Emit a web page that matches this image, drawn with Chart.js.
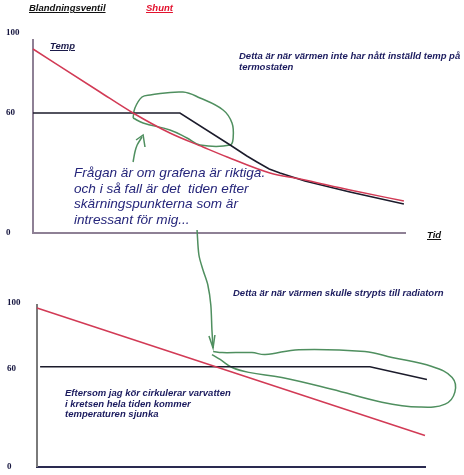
<!DOCTYPE html>
<html>
<head>
<meta charset="utf-8">
<script src="https://cdn.jsdelivr.net/npm/chart.js@4.4.1/dist/chart.umd.min.js"></script>
<style>
  body { margin: 0; background: #fff; }
  #wrap { position: relative; width: 464px; height: 475px; overflow: hidden; }
  canvas { position: absolute; left: 0; top: 0; }
  .t { position: absolute; white-space: pre; font-family: "Liberation Sans", Arial, sans-serif; }
  .small { font-size: 9.5px; font-weight: bold; font-style: italic; line-height: 10.5px; color: #1b1b5e; }
  .head { font-size: 9.5px; font-weight: bold; font-style: italic; line-height: 10px; text-decoration: underline; }
  .big { font-size: 13.6px; font-style: italic; line-height: 15.5px; color: #25257a; }
</style>
</head>
<body>
<div id="wrap">
  <canvas id="ovreGraf" width="464" height="475"></canvas>
  <canvas id="undreGraf" width="464" height="475"></canvas>

  <div class="t head" style="left:29px;top:3px;color:#111">Blandningsventil</div>
  <div class="t head" style="left:146px;top:3px;color:#e3122e">Shunt</div>
  <div class="t head" style="left:50px;top:41px;color:#1b1b4b">Temp</div>
  <div class="t head" style="left:427px;top:230px;color:#111">Tid</div>
  <div class="t small" style="left:239px;top:51px;line-height:10.5px">Detta är när värmen inte har nått inställd temp på
termostaten</div>
  <div class="t big" style="left:74px;top:165px">Frågan är om grafena är riktiga.
och i så fall är det  tiden efter
skärningspunkterna som är
intressant för mig...</div>
  <div class="t small" style="left:233px;top:288px">Detta är när värmen skulle strypts till radiatorn</div>
  <div class="t small" style="left:65px;top:388px">Eftersom jag kör cirkulerar varvatten
i kretsen hela tiden kommer
temperaturen sjunka</div>
</div>

<script>
//Värden - övre grafen (x = tid 0-100, y = temp)
const yTicks = [0, 60, 100];
const ovreRod = [[0, 92], [18, 70.5], [26.9, 60], [36.8, 50], [45.7, 43], [52.2, 38], [63.7, 30], [71.8, 27], [85.2, 21.5], [99.7, 16]];
const ovreSvart = [[0, 60], [39.5, 60], [53, 44], [57.5, 38.5], [60.2, 35.5], [63.5, 32], [66.4, 30], [73.1, 26], [85.2, 20.5], [99.7, 14.5]];
const ovreRing = [[26.9, 57.5], [27.4, 62.5], [29.3, 68], [31.5, 69], [40.3, 70.5], [44.9, 67.5], [51.1, 61.5], [53.5, 55], [53.8, 47.5], [53, 44], [44.9, 44], [41.4, 47.5], [36.8, 51.5], [29.6, 55], [26.9, 57.5]];
const ovrePil = [[26.9, 35.5], [27.4, 40.5], [28, 44], [29.3, 48]];
const ovrePilHuvud = [[27.7, 46.5], [29.6, 49], [30.1, 43]];
//Pilen ner till undre grafen (ritas i övre grafens skala)
const lankPil = [[44.1, 1.5], [44.6, -11], [45.7, -18.5], [47, -26], [47.8, -36], [48.1, -48.5], [48.4, -57.5]];
const lankPilHuvud = [[47.3, -51.5], [48.4, -57.5], [48.9, -51]];

//Värden - undre grafen
const undreRod = [[0, 97], [100, 19]];
const undreSvart = [[0.8, 61], [85.8, 61], [100.5, 53.3]];
const undreRing = [[45.4, 70.3], [47.7, 69.7], [55.4, 69.7], [58.8, 68.5], [67.5, 71.5], [84.5, 70.3], [91.5, 66.7], [101.8, 61.2], [107, 54.5], [107.7, 45.5], [105.2, 38.2], [98.5, 36.4], [88.9, 39.4], [76, 47.3], [63.1, 54.5], [54.6, 57.6], [50.3, 60.6], [47.2, 65.5], [45.1, 68.5]];

const rod = "#d23a55";
const svart = "#1b1b2b";
const gron = "#4f8f5f";

function linje(punkter, farg, tension, mode) {
  return {
    data: punkter.map(([x, y]) => ({ x: x, y: y })),
    showLine: true,
    borderColor: farg,
    borderWidth: 1.5,
    pointRadius: 0,
    tension: tension || 0,
    cubicInterpolationMode: mode || "default",
    clip: false,
    fill: false,
  };
}

function skalor(yMax, vansterBredd, xFarg, yFarg) {
  return {
    x: {
      type: "linear",
      min: 0,
      max: 100,
      grid: { display: false },
      ticks: { display: false },
      border: { color: xFarg, width: 2 },
      afterFit: (s) => { s.height = 0; },
    },
    y: {
      type: "linear",
      min: 0,
      max: yMax,
      grid: { display: false },
      border: { color: yFarg, width: 2 },
      ticks: {
        crossAlign: "far",
        color: "#15153f",
        font: { family: "'Liberation Serif', serif", size: 9, weight: "bold" },
      },
      afterBuildTicks: (s) => { s.ticks = yTicks.map((v) => ({ value: v })); },
      afterFit: (s) => { s.width = vansterBredd; },
    },
  };
}

const basOptions = {
  responsive: false,
  animation: false,
  events: [],
  plugins: { legend: { display: false }, tooltip: { enabled: false } },
};

new Chart(document.getElementById("ovreGraf"), {
  type: "scatter",
  data: {
    datasets: [
      linje(ovreRod, rod, 0.4, "monotone"),
      linje(ovreSvart, svart),
      linje(ovreRing, gron, 0.4),
      linje(ovrePil, gron, 0.3),
      linje(ovrePilHuvud, gron),
      linje(lankPil, gron, 0.3),
      linje(lankPilHuvud, gron),
    ],
  },
  options: Object.assign({}, basOptions, {
    layout: { padding: { left: 6, top: 40, right: 59, bottom: 242 } },
    scales: skalor(96.5, 27, "#8e8095", "#8e8095"),
  }),
});

new Chart(document.getElementById("undreGraf"), {
  type: "scatter",
  data: {
    datasets: [
      linje(undreRod, rod),
      linje(undreSvart, svart),
      linje(undreRing, gron, 0.4),
    ],
  },
  options: Object.assign({}, basOptions, {
    layout: { padding: { left: 7, top: 305, right: 39, bottom: 7 } },
    scales: skalor(98.8, 30, "#2a2a50", "#7a7a7a"),
  }),
});
</script>
</body>
</html>
